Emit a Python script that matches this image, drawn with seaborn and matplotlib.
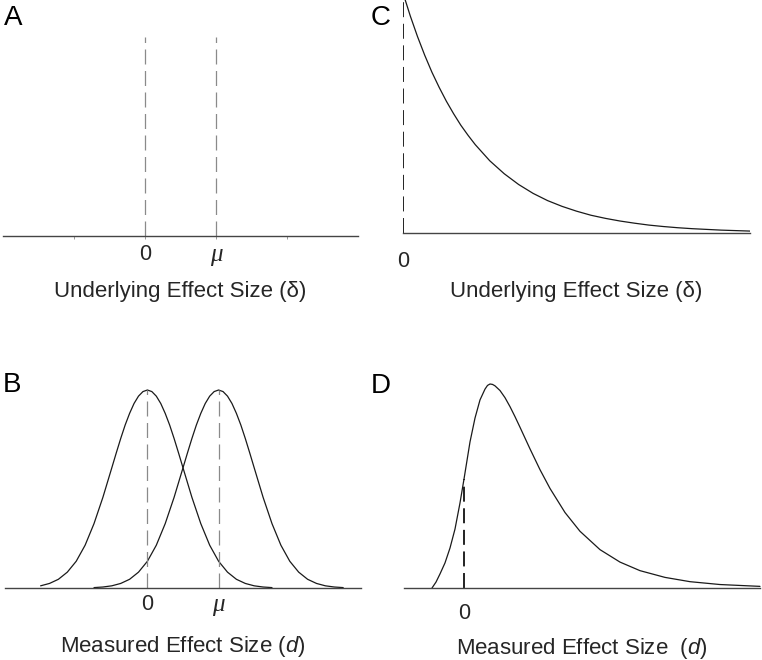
import matplotlib
matplotlib.use("Agg")
import matplotlib.pyplot as plt
import seaborn as sns

# ---------------- data ----------------
# Panel A: true effect sizes (spikes) at 0 and mu
A_spikes = [0.0, 2.0]
A_ticks = [-2.0, 0.0, 2.0, 4.0]
A_ticklabels = ["", "0", "μ", ""]

# Panel B: sampling distributions (normal shape) centred at 0 and mu
B_centres = [0.0, 2.0]
B_ticklabels = ["0", "μ"]
B_offsets = [-3.5, -3.25, -3.0, -2.75, -2.5, -2.25, -2.0, -1.75, -1.5, -1.25,
             -1.0, -0.875, -0.75, -0.625, -0.5, -0.375, -0.25, -0.125, 0.0,
             0.125, 0.25, 0.375, 0.5, 0.625, 0.75, 0.875, 1.0, 1.25, 1.5,
             1.75, 2.0, 2.25, 2.5, 2.75, 3.0, 3.25, 3.5]
B_heights = [0.002, 0.005, 0.011, 0.023, 0.044, 0.080, 0.135, 0.216, 0.325, 0.458,
             0.607, 0.682, 0.755, 0.823, 0.882, 0.932, 0.969, 0.992, 1.0,
             0.992, 0.969, 0.932, 0.882, 0.823, 0.755, 0.682, 0.607, 0.458, 0.325,
             0.216, 0.135, 0.080, 0.044, 0.023, 0.011, 0.005, 0.002]
B_left_start = 2  # left curve begins at -3.0

# Panel C: exponential distribution of underlying effect sizes
C_x = [0.0, 0.1, 0.2, 0.3, 0.4, 0.5, 0.6, 0.7, 0.8, 0.9, 1.0, 1.2, 1.4, 1.6, 1.8,
       2.0, 2.2, 2.4, 2.6, 2.8, 3.0, 3.2, 3.4, 3.6, 3.8, 4.0, 4.2, 4.4, 4.6, 4.8]
C_y = [1.0, 0.905, 0.819, 0.741, 0.670, 0.607, 0.549, 0.497, 0.449, 0.407, 0.368,
       0.301, 0.247, 0.202, 0.165, 0.135, 0.111, 0.091, 0.074, 0.061, 0.050,
       0.041, 0.033, 0.027, 0.022, 0.018, 0.015, 0.012, 0.010, 0.008]

# Panel D: distribution of measured effect sizes (right skewed)
D_x = [-0.64, -0.56, -0.48, -0.38, -0.28, -0.18, -0.08, 0.0, 0.12, 0.22, 0.32,
       0.42, 0.47, 0.52, 0.57, 0.62, 0.72, 0.82, 0.92, 1.02, 1.12, 1.32, 1.52,
       1.72, 2.02, 2.32, 2.72, 3.12, 3.52, 4.02, 4.52, 5.12, 5.92]
D_y = [0.0, 0.029, 0.069, 0.123, 0.196, 0.289, 0.417, 0.534, 0.716, 0.833, 0.922,
       0.975, 0.993, 1.0, 0.998, 0.991, 0.968, 0.933, 0.889, 0.840, 0.788, 0.682,
       0.580, 0.488, 0.370, 0.278, 0.188, 0.127, 0.085, 0.052, 0.031, 0.017, 0.008]

label_under = "Underlying Effect Size (δ)"
label_meas_B = r"Measured Effect Size ($d$)"
label_meas_D = r"Measured Effect Size  ($d$)"

# ---------------- style ----------------
sns.set_theme(style="white")
plt.rcParams["font.family"] = ["Liberation Sans", "DejaVu Sans"]
plt.rcParams["mathtext.fontset"] = "custom"
plt.rcParams["mathtext.rm"] = "Liberation Sans"
plt.rcParams["mathtext.it"] = "Liberation Sans:italic"

W, H = 762, 660
fig = plt.figure(figsize=(W / 100, H / 100), dpi=100)
fig.patch.set_facecolor("white")


def add_ax(left, right, top, bottom):
    return fig.add_axes([left / W, (H - bottom) / H, (right - left) / W, (bottom - top) / H])


def style(ax):
    for s in ["top", "right", "left"]:
        ax.spines[s].set_visible(False)
    ax.spines["bottom"].set_color("#444444")
    ax.spines["bottom"].set_linewidth(1.0)
    ax.set_yticks([])
    ax.set_ylabel("")
    ax.grid(False)
    ax.patch.set_alpha(0)


grey_dash = dict(color="#8a8a8a", lw=0.9, linestyle=(0, (12, 5.2)))
black_dash = dict(color="#222222", lw=1.4, linestyle=(0, (7.7, 3.4)))
curve_kw = dict(color="#1a1a1a", lw=0.9)
LABEL_FS = 16
TICK_FS = 15.5

# ---- Panel A ----
axA = add_ax(3, 358, 37, 236)
style(axA)
axA.set_xlim(-4, 6)
axA.set_ylim(0, 1)
axA.vlines(A_spikes, 0, 1, **grey_dash)
axA.set_xticks(A_ticks)
axA.set_xticklabels(A_ticklabels)
axA.tick_params(axis="x", length=2.5, width=0.6, color="#888888", pad=3,
                labelsize=TICK_FS, bottom=True)
axA.set_xlabel(label_under, fontsize=LABEL_FS)
axA.xaxis.set_label_coords(0.5, -(281 - 236) / 199)

# ---- Panel B ----
axB = add_ax(5, 361, 390, 588)
style(axB)
axB.set_xlim(-4, 6)
axB.set_ylim(0, 1)
for i, c in enumerate(B_centres):
    start = B_left_start if i == 0 else 0
    xs = [c + o for o in B_offsets[start:]]
    sns.lineplot(x=xs, y=B_heights[start:], ax=axB, clip_on=False, **curve_kw)
axB.vlines(B_centres, 0, max(B_heights), **grey_dash)
axB.set_xticks(B_centres)
axB.set_xticklabels(B_ticklabels)
axB.tick_params(axis="x", length=0, pad=4.3, labelsize=TICK_FS, bottom=True)
axB.set_xlabel(label_meas_B, fontsize=LABEL_FS)
axB.xaxis.set_label_coords(0.5, -(634 - 588) / 198)

# ---- Panel C ----
axC = add_ax(403, 750, 0, 233)
style(axC)
axC.set_xlim(0, 4.8)
axC.set_ylim(0, 233 / 240)
sns.lineplot(x=C_x, y=C_y, ax=axC, **curve_kw)
axC.axvline(0, **black_dash)
axC.set_xticks([0])
axC.set_xticklabels(["0"])
axC.tick_params(axis="x", length=0, pad=13, labelsize=TICK_FS, bottom=True)
axC.set_xlabel(label_under, fontsize=LABEL_FS)
axC.xaxis.set_label_coords(0.5, -(281 - 233) / 233)

# ---- Panel D ----
axD = add_ax(404, 760, 384, 588)
style(axD)
axD.set_xlim(-1.2, 5.92)
axD.set_ylim(0, 1)
sns.lineplot(x=D_x, y=D_y, ax=axD, clip_on=False, **curve_kw)
axD.vlines([0.0], 0, D_y[D_x.index(0.0)], **black_dash)
axD.set_xticks([0])
axD.set_xticklabels(["0"])
axD.tick_params(axis="x", length=0, pad=10.8, labelsize=TICK_FS, bottom=True)
axD.set_xlabel(label_meas_D, fontsize=LABEL_FS)
axD.xaxis.set_label_coords(0.5, -(636 - 588) / 204)

for ax in (axA, axB):
    for lbl in ax.get_xticklabels():
        if lbl.get_text() == "μ":
            lbl.set_fontfamily(["Liberation Serif", "DejaVu Serif"])
            lbl.set_fontstyle("italic")
            lbl.set_fontsize(18)

for ax in (axA, axB, axC, axD):
    leg = ax.get_legend()
    if leg is not None:
        leg.remove()

# panel letters
for letter, xp, yp in [("A", 4, 25), ("C", 371, 25), ("B", 3, 392), ("D", 371, 393)]:
    fig.text(xp / W, 1 - yp / H, letter, fontsize=20, ha="left", va="baseline",
             color="black")

fig.savefig("out.png", dpi=100, facecolor="white")
